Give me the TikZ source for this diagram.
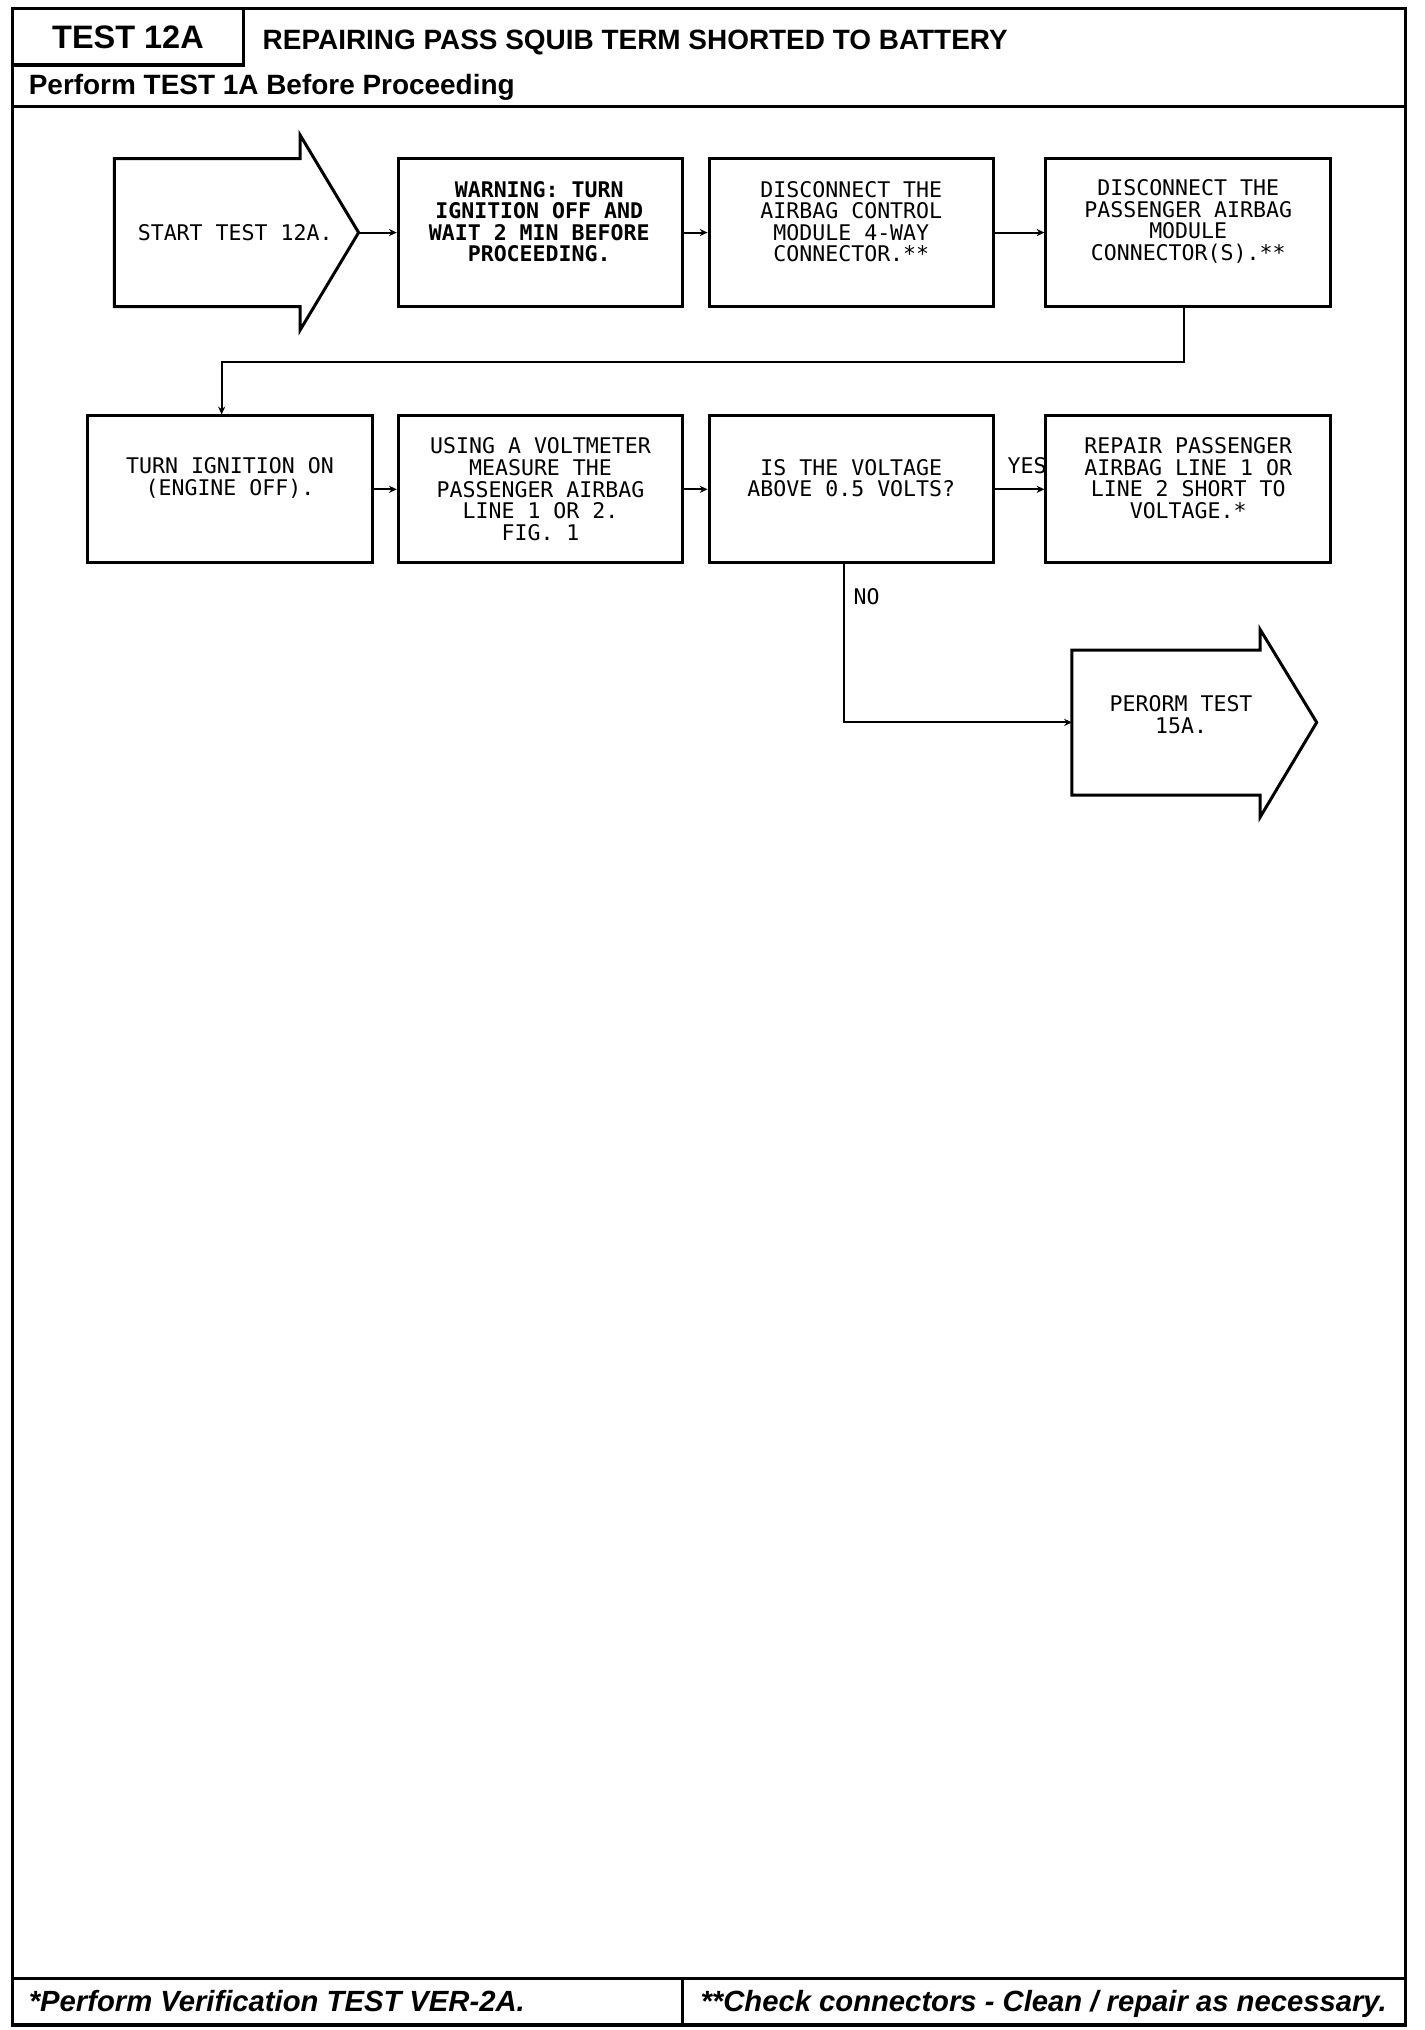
\documentclass[tikz,border=0pt]{standalone}
\usepackage{fontspec}
\setmainfont{Liberation Sans}
\newfontfamily\plotfont{DejaVu Sans Mono}
\usetikzlibrary{arrows.meta}
\begin{document}
\begin{tikzpicture}[x=1pt,y=-1pt,
  frame/.style={line width=2.5pt},
  box/.style={draw,line width=2.3pt,minimum width=219pt,minimum height=114pt,inner sep=0pt},
  boxtext/.style={font=\plotfont\fontsize{16.6}{16.6}\selectfont,align=center,inner sep=0pt},
  conn/.style={line width=1.5pt,-{Stealth[length=6pt,width=5.5pt]}},
  lbl/.style={font=\plotfont\fontsize{16.6}{16.6}\selectfont,inner sep=0pt},
  hdr/.style={font=\bfseries\fontsize{21.5}{21.5}\selectfont,inner sep=0pt},
  ftr/.style={font=\bfseries\itshape\fontsize{22.5}{22.5}\selectfont,inner sep=0pt},
  bigarrow/.style={draw,line width=2.3pt,line join=miter}]
\useasboundingbox (0,0) rectangle (1096,1562.4);
% frame
\draw[frame] (9.8,6.4) rectangle (1081.9,1558.6);
\draw[frame] (9.8,50) -- (187.5,50) -- (187.5,6.4);
\draw[frame] (9.8,82) -- (1081.9,82);
\draw[frame] (9.8,1523) -- (1081.9,1523);
\draw[frame] (525,1523) -- (525,1558.6);
% header texts
\node[font=\bfseries\fontsize{25}{25}\selectfont,inner sep=0pt,anchor=base] (hd) at (98.5,37) {TEST 12A};
\node[hdr,anchor=base west] (title) at (202,38) {REPAIRING PASS SQUIB TERM SHORTED TO BATTERY};
\node[hdr,anchor=base west] (pre) at (22,72.5) {Perform TEST 1A Before Proceeding};
% footer texts
\node[ftr,anchor=base west] (f1) at (22,1548) {*Perform Verification TEST VER-2A.};
\node[ftr,anchor=base west] (f2) at (539,1548) {**Check connectors - Clean / repair as necessary.};
% start arrow
\draw[bigarrow] (88,122) -- (231,122) -- (231,104) -- (276,179) -- (231,254) -- (231,236) -- (88,236) -- cycle;
\coordinate (s) at (276,179);
\node[boxtext] (st) at (181,179) {START TEST 12A.};
% row 1
\node[box] (b2) at (416,179) {};
\node[boxtext,font=\plotfont\bfseries\fontsize{16.6}{16.6}\selectfont] (t2) at (415,170.5) {WARNING: TURN\\IGNITION OFF AND\\WAIT 2 MIN BEFORE\\PROCEEDING.};
\node[box] (b3) at (655.2,179) {};
\node[boxtext] (t3) at (655.2,170.5) {DISCONNECT THE\\AIRBAG CONTROL\\MODULE 4-WAY\\CONNECTOR.**};
\node[box] (b4) at (914.5,179) {};
\node[boxtext] (t4) at (914.5,170.5) {DISCONNECT THE\\PASSENGER AIRBAG\\MODULE\\CONNECTOR(S).**};
% row 2
\node[box,minimum height=113pt] (b5) at (177,376.6) {};
\node[boxtext] (t5) at (177,368) {TURN IGNITION ON\\(ENGINE OFF).};
\node[box,minimum height=113pt] (b6) at (416,376.6) {};
\node[boxtext] (t6) at (416,376.5) {USING A VOLTMETER\\MEASURE THE\\PASSENGER AIRBAG\\LINE 1 OR 2.\\FIG. 1};
\node[box,minimum height=113pt] (b7) at (655.2,376.6) {};
\node[boxtext] (t7) at (655.2,368) {IS THE VOLTAGE\\ABOVE 0.5 VOLTS?};
\node[box,minimum height=113pt] (b8) at (914.5,376.6) {};
\node[boxtext] (t8) at (914.5,368) {REPAIR PASSENGER\\AIRBAG LINE 1 OR\\LINE 2 SHORT TO\\VOLTAGE.*};
% end arrow
\draw[bigarrow] (825,500.3) -- (969.8,500.3) -- (969.8,484.4) -- (1013.4,556) -- (969.8,629) -- (969.8,612) -- (825,612) -- cycle;
\coordinate (e) at (825,556);
\node[boxtext] (te) at (909,550) {PERORM TEST\\15A.};
% connectors
\draw[conn] (s) -- (b2.west);
\draw[conn] (b2.east) -- (b3.west);
\draw[conn] (b3.east) -- (b4.west);
\draw[conn] ([xshift=-3.5pt]b4.south) -- ++(0,41.5) -| ([xshift=-6.4pt]b5.north);
\draw[conn] (b5.east) -- (b6.west);
\draw[conn] (b6.east) -- (b7.west);
\draw[conn] (b7.east) -- (b8.west);
\draw[conn] ([xshift=-5.5pt]b7.south) |- (e);
\node[lbl] (yes) at (790.5,358.5) {YES};
\node[lbl] (no) at (667,459) {NO};
\end{tikzpicture}
\end{document}
